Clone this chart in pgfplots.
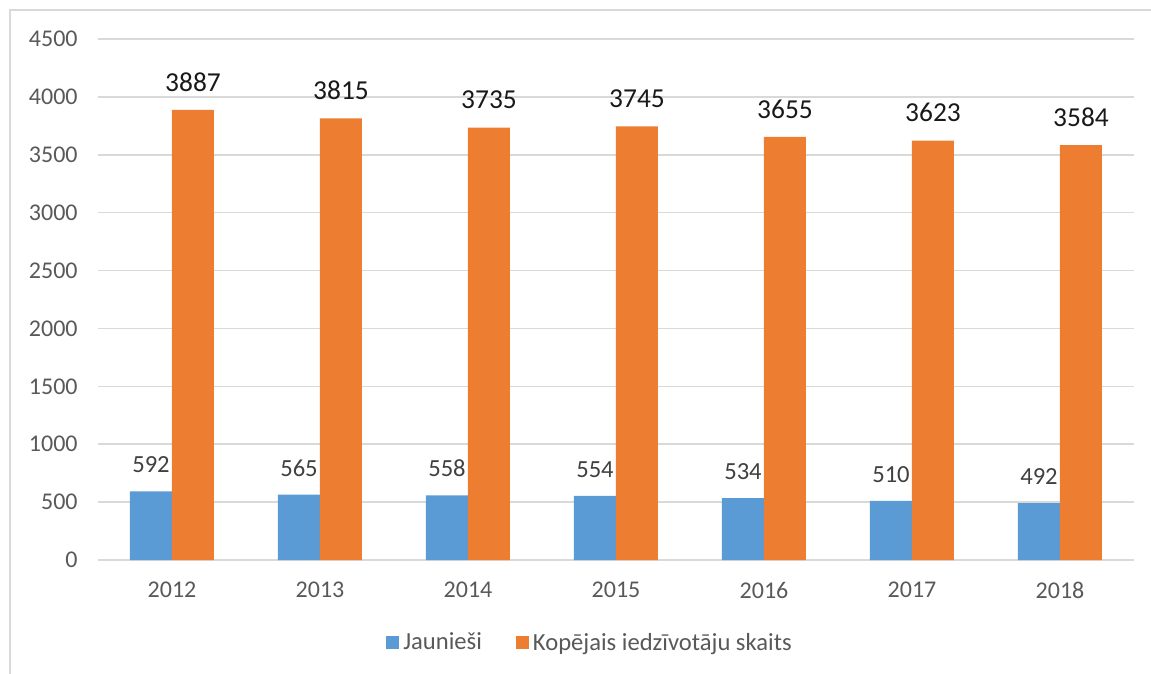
\documentclass[border=0pt]{standalone}
\usepackage{pgfplots}
\pgfplotsset{compat=1.18}
\usepackage{fontspec}
\setmainfont{Carlito}
\definecolor{cblue}{HTML}{5B9BD5}
\definecolor{corange}{HTML}{ED7D31}
\definecolor{cgrid}{HTML}{D9D9D9}
\definecolor{ctick}{HTML}{595959}
\definecolor{cframe}{HTML}{D9D9D9}
\begin{document}
\begin{tikzpicture}[x=1pt,y=1pt]
\useasboundingbox (-49,-57) rectangle (526.5,280);
\draw[color=cframe, line width=1pt] (-44,-90) -- (-44,275) -- (600,275);
\begin{axis}[
  at={(0,0)}, anchor=south west,
  scale only axis, width=518pt, height=260.5pt,
  ybar=0pt, bar width=21pt,
  xmin=-0.5, xmax=6.5, ymin=0, ymax=4500,
  xtick={0,1,2,3,4,5,6},
  xticklabels={2012,2013,2014,2015,2016,2017,2018},
  ytick={0,500,...,4500},
  axis x line*=bottom, axis y line*=left,
  x axis line style={cgrid, line width=0.75pt},
  y axis line style={draw=none},
  ymajorgrids, grid style={cgrid, line width=0.75pt},
  major tick length=0pt, tick style={draw=none},
  /pgf/number format/1000 sep={},
  /pgf/number format/assume math mode=true,
  ticklabel style={font=\fontsize{12}{14}\selectfont, text=ctick, inner sep=0pt},
  xticklabel style={anchor=north, yshift=-11pt},
  yticklabel style={anchor=east, xshift=-10pt},
  clip=false,
  legend columns=2,
  legend style={draw=none, at={(0.4759,-0.1593)}, anchor=center,
    font=\fontsize{12.3}{14}\selectfont, text=ctick,
    /tikz/every even column/.append style={column sep=15pt},
    inner sep=0pt},
  legend image code/.code={\fill[#1] (0pt,-3.25pt) rectangle (6.5pt,3.25pt);},
]
\addplot[fill=cblue, draw=none,
  nodes near coords,
  every node near coord/.append style={font=\fontsize{12.3}{14}\selectfont, text=black!75, anchor=south, inner sep=0pt, yshift=9pt}]
  coordinates {(0,592) (1,565) (2,558) (3,554) (4,534) (5,510) (6,492)};
\addlegendentry{Jaunieši}
\addplot[fill=corange, draw=none,
  nodes near coords,
  every node near coord/.append style={font=\fontsize{13.7}{15}\selectfont, text=black!90, anchor=south, inner sep=0pt, yshift=9pt}]
  coordinates {(0,3887) (1,3815) (2,3735) (3,3745) (4,3655) (5,3623) (6,3584)};
\addlegendentry{Kopējais iedzīvotāju skaits}
\end{axis}
\end{tikzpicture}
\end{document}
